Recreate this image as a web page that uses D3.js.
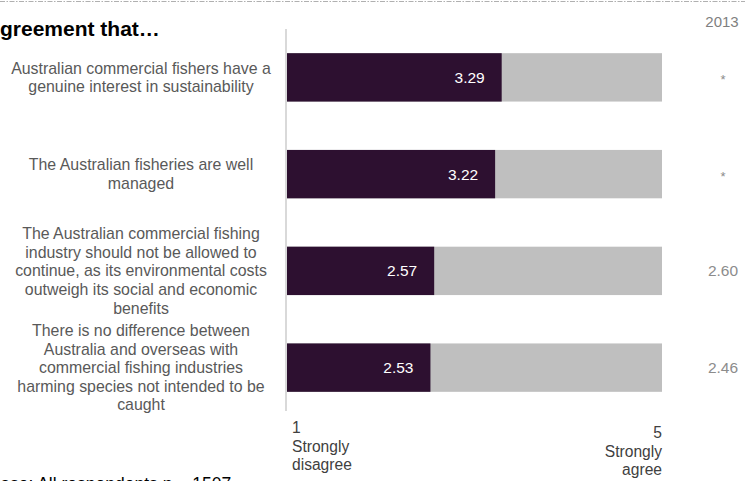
<!DOCTYPE html>
<html>
<head>
<meta charset="utf-8">
<script src="https://cdn.jsdelivr.net/npm/d3@7"></script>
<style>
  html, body { margin: 0; padding: 0; background: #fff; overflow: hidden; }
  svg { display: block; font-family: "Liberation Sans", Arial, sans-serif; }
</style>
</head>
<body>
<svg id="chart" width="745" height="481"></svg>
<script>
// Statements (wrapped lines) and mean agreement scores
const statements = [
  ["Australian commercial fishers have a", "genuine interest in sustainability"],
  ["The Australian fisheries are well", "managed"],
  ["The Australian commercial fishing", "industry should not be allowed to", "continue, as its environmental costs", "outweigh its social and economic", "benefits"],
  ["There is no difference between", "Australia and overseas with", "commercial fishing industries", "harming species not intended to be", "caught"]
];
const scores2015 = [3.29, 3.22, 2.57, 2.53];
const scores2013 = ["*", "*", "2.60", "2.46"];
const scaleMin = 1, scaleMax = 5;
const endLabels = [
  { value: 1, lines: ["1", "Strongly", "disagree"] },
  { value: 5, lines: ["5", "Strongly", "agree"] }
];
const titleText = "Agreement that\u2026";
const baseText = "Base: All respondents n = 1507";
const compareHeader = "2013";

const svg = d3.select("#chart");
const ids = d3.range(statements.length);

const x = d3.scaleLinear().domain([scaleMin, scaleMax]).range([287, 662]);
const y = d3.scaleBand().domain(ids).range([29, 416]).paddingInner(0.5).paddingOuter(0.25);

// dashed frame line along the top
svg.append("line")
  .attr("x1", 0).attr("x2", 745).attr("y1", 1.5).attr("y2", 1.5)
  .attr("stroke", "#b0b0b0").attr("stroke-width", 1.2)
  .attr("stroke-dasharray", "5,1.5,1.5,1.5");

// title (runs off the left edge)
svg.append("text")
  .attr("x", -15.2).attr("y", 36)
  .attr("font-size", 21).attr("font-weight", "bold").attr("fill", "#000")
  .text(titleText);

// comparison column header
svg.append("text")
  .attr("x", 722).attr("y", 27)
  .attr("text-anchor", "middle").attr("font-size", 15).attr("fill", "#7f7f7f")
  .text(compareHeader);

// background (full scale) bars
svg.append("g").selectAll("rect").data(ids).join("rect")
  .attr("x", x(scaleMin)).attr("width", x(scaleMax) - x(scaleMin))
  .attr("y", d => y(d)).attr("height", y.bandwidth())
  .attr("fill", "#bfbfbf");

// score bars
svg.append("g").selectAll("rect").data(ids).join("rect")
  .attr("x", x(scaleMin)).attr("width", d => x(scores2015[d]) - x(scaleMin))
  .attr("y", d => y(d)).attr("height", y.bandwidth())
  .attr("fill", "#2d1030");

// score labels inside bars
svg.append("g").selectAll("text").data(ids).join("text")
  .attr("x", d => x(scores2015[d]) - 17)
  .attr("y", d => y(d) + y.bandwidth() / 2)
  .attr("dy", "0.35em")
  .attr("text-anchor", "end").attr("font-size", 15.5).attr("fill", "#fff")
  .text(d => scores2015[d].toFixed(2));

// vertical axis line
svg.append("line")
  .attr("x1", 286).attr("x2", 286).attr("y1", 29).attr("y2", 411)
  .attr("stroke", "#d9d9d9").attr("stroke-width", 2);

// statement labels
const lineH = 18.6;
const labels = svg.append("g").selectAll("text").data(ids).join("text")
  .attr("text-anchor", "middle").attr("font-size", 15.9).attr("fill", "#595959");
labels.each(function(d) {
  const lines = statements[d];
  const cy = y(d) + y.bandwidth() / 2;
  const top = cy - (lines.length - 1) * lineH / 2;
  d3.select(this).selectAll("tspan").data(lines).join("tspan")
    .attr("x", 141)
    .attr("y", (l, i) => top + i * lineH)
    .attr("dy", "0.35em")
    .text(l => l);
});

// 2013 comparison values
svg.append("g").selectAll("text").data(ids).join("text")
  .attr("x", 723)
  .attr("y", d => y(d) + y.bandwidth() / 2)
  .attr("dy", d => scores2013[d] === "*" ? "0.5em" : "0.35em")
  .attr("text-anchor", "middle")
  .attr("font-size", d => scores2013[d] === "*" ? 13 : 15.5)
  .attr("fill", "#8c8c8c")
  .text(d => scores2013[d]);

// scale end labels
const ends = svg.append("g").selectAll("text").data(endLabels).join("text")
  .attr("font-size", 15.6).attr("fill", "#404040")
  .attr("text-anchor", d => d.value === scaleMin ? "start" : "end");
ends.each(function(d) {
  const isMin = d.value === scaleMin;
  const x0 = isMin ? x(d.value) + 5 : x(d.value);
  const y0 = isMin ? 433 : 438;
  d3.select(this).selectAll("tspan").data(d.lines).join("tspan")
    .attr("x", x0)
    .attr("y", (l, i) => y0 + i * 18.5)
    .text(l => l);
});

// base note (runs off the bottom-left corner)
svg.append("text")
  .attr("x", -11.5).attr("y", 490)
  .attr("font-size", 17.5).attr("fill", "#000")
  .text(baseText);
</script>
</body>
</html>
